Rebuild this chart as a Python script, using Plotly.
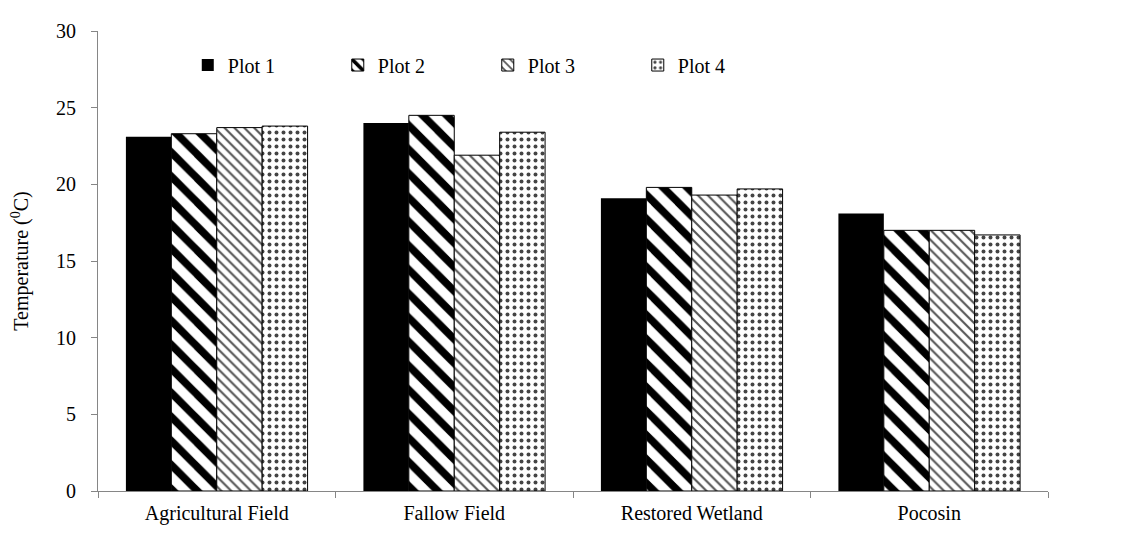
import plotly.graph_objects as go

# site categories and mean temperature per plot (deg C)
sites = ["Agricultural Field", "Fallow Field", "Restored Wetland", "Pocosin"]
plot1 = [23.1, 24.0, 19.1, 18.1]
plot2 = [23.3, 24.5, 19.8, 17.0]
plot3 = [23.7, 21.9, 19.3, 17.0]
plot4 = [23.8, 23.4, 19.7, 16.7]

series_names = ["Plot 1", "Plot 2", "Plot 3", "Plot 4"]
y_ticks = [0, 5, 10, 15, 20, 25, 30]

FONT = "Liberation Serif"
AXIS_GREY = "#868686"

fig = go.Figure()

# Plot 1 - solid black
fig.add_trace(go.Bar(
    x=sites, y=plot1, name=series_names[0],
    marker=dict(color="black", line=dict(width=0)),
))
# Plot 2 - wide black diagonal stripes
fig.add_trace(go.Bar(
    x=sites, y=plot2, name=series_names[1],
    marker=dict(color="white", line=dict(color="black", width=1),
                pattern=dict(shape="\\", size=17, solidity=0.45,
                             fgcolor="black", bgcolor="white", fgopacity=1)),
))
# Plot 3 - fine grey diagonal hatching
fig.add_trace(go.Bar(
    x=sites, y=plot3, name=series_names[2],
    marker=dict(color="white", line=dict(color="black", width=1),
                pattern=dict(shape="\\", size=7, solidity=0.3,
                             fgcolor="#555555", bgcolor="white", fgopacity=1)),
))
# Plot 4 - dotted
fig.add_trace(go.Bar(
    x=sites, y=plot4, name=series_names[3],
    marker=dict(color="white", line=dict(color="black", width=1),
                pattern=dict(shape=".", size=7, solidity=0.25,
                             fgcolor="#444444", bgcolor="white", fgopacity=1)),
))

fig.update_layout(
    width=1128, height=536,
    margin=dict(l=88, r=88, t=12, b=53),
    paper_bgcolor="white", plot_bgcolor="white",
    font=dict(family=FONT, size=20, color="black"),
    barmode="group", bargap=0.235, bargroupgap=0,
    legend=dict(
        orientation="h", x=0.0945, y=0.926, xanchor="left", yanchor="middle",
        entrywidth=105, entrywidthmode="pixels",
        font=dict(family=FONT, size=20, color="black"),
        bgcolor="rgba(0,0,0,0)", itemclick=False,
    ),
    showlegend=True,
)
fig.update_xaxes(
    range=[-0.5, 3.5], showline=True, linecolor=AXIS_GREY, linewidth=1,
    ticks="outside", tickson="boundaries", ticklen=6, tickcolor=AXIS_GREY,
    tickfont=dict(family=FONT, size=20), ticklabelstandoff=4, showgrid=False,
)
fig.update_yaxes(
    range=[0, 30], tickvals=y_ticks, showline=True, linecolor=AXIS_GREY,
    linewidth=1, ticks="outside", ticklen=6, tickcolor=AXIS_GREY,
    showgrid=False, zeroline=False, tickfont=dict(family=FONT, size=20),
    ticklabelstandoff=11,
    title=dict(text="Temperature (<sup>0</sup>C)", standoff=22,
               font=dict(family=FONT, size=20)),
)

fig.write_html("out.html")
